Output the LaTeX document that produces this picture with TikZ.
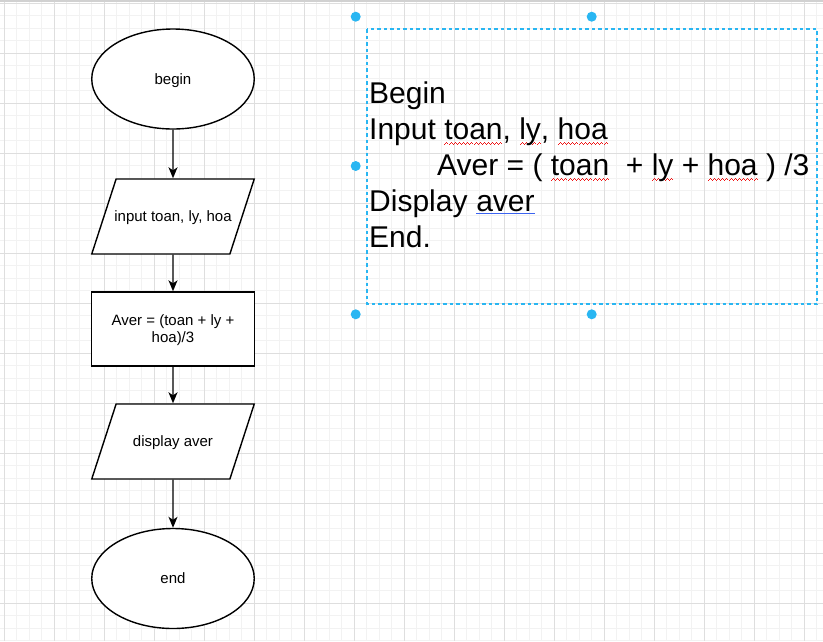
\documentclass[tikz,border=0pt]{standalone}
\usepackage{fontspec}
\setmainfont{Liberation Sans}
\usetikzlibrary{shapes.geometric,arrows.meta}
\definecolor{handleblue}{RGB}{41,182,242}
\definecolor{linkblue}{RGB}{60,100,240}
\definecolor{wavered}{RGB}{240,20,20}
\newsavebox\wordbox
\newcommand\flowstrut{\rule[-3.5pt]{0pt}{17pt}}
\newcommand\wavebit{\rule[-5.2pt]{1pt}{1.1pt}\rule[-4.3pt]{1pt}{1.1pt}\rule[-3.4pt]{1pt}{1.1pt}\rule[-4.3pt]{1pt}{1.1pt}}
\newcommand\spellwave[1]{\sbox\wordbox{#1}\rlap{\color{wavered}\hbox to\wd\wordbox{\xleaders\hbox{\wavebit}\hfil}}\usebox\wordbox}
\begin{document}
\begin{tikzpicture}[x=1pt, y=-1pt,
  flow/.style={draw, line width=1.4pt, fill=white, inner sep=0pt, font=\fontsize{15}{17}\selectfont, align=center},
  oval/.style={flow, ellipse, text height=13.5pt, text depth=3.5pt, minimum width=162.5pt, minimum height=100pt},
  io/.style={flow, trapezium, trapezium left angle=72, trapezium right angle=108, trapezium stretches body=true,
    text height=13.5pt, text depth=3.5pt, inner xsep=-2pt, inner ysep=29pt, minimum width=162.5pt, minimum height=75pt},
  proc/.style={flow, rectangle, minimum width=162.5pt, minimum height=74pt},
  arrow/.style={line width=1.4pt, -{Stealth[length=11pt, width=9pt, inset=3pt]}},
  pseudo/.style={anchor=base west, inner sep=0pt, font=\fontsize{30}{36}\selectfont},
  linkline/.style={draw=linkblue, line width=1.3pt},
  selbox/.style={draw=handleblue, line width=1.1pt, dash pattern=on 3.5pt off 3pt},
  handle/.style={fill=handleblue},
  minorline/.style={black!5, line width=1pt},
  majorline/.style={black!13, line width=1pt}]
\path[use as bounding box] (0,0) rectangle (823,641);
\clip (0,0) rectangle (823,641);
\foreach \i in {0,...,66} \draw[minorline] ({4+12.5*\i},0) -- ++(0,641);
\foreach \i in {0,...,52} \draw[minorline] (0,{3+12.5*\i}) -- ++(823,0);
\foreach \i in {0,...,16} \draw[majorline] ({4+50*\i},0) -- ++(0,641);
\foreach \i in {0,...,12} \draw[majorline] (0,{3+50*\i}) -- ++(823,0);
\fill[black!18] (0,0) rectangle (823,2);

\node[oval] (start) at (173,79) {begin};
\node[io] (input) at (173,216.5) {input toan, ly, hoa};
\node[proc] (aver) at (173,329) {\flowstrut Aver = (toan + ly +\\\flowstrut hoa)/3};
\node[io] (display) at (173,441.5) {display aver};
\node[oval] (stop) at (173,578.5) {end};
\draw[arrow] (start) -- (input);
\draw[arrow] (input) -- (aver);
\draw[arrow] (aver) -- (display);
\draw[arrow] (display) -- (stop);

\draw[selbox] (367,29) rectangle (817,304);
\foreach \hx/\hy in {355.7/16.7, 591.7/16.7, 828/16.7, 355.7/166, 828/166, 355.7/314.3, 591.7/314.3, 828/314.3}
  \fill[handle] (\hx,\hy) circle (5pt);
\node[pseudo] (pbegin) at (369,103.5) {Begin};
\node[pseudo] (pinput) at (369,139.5) {Input \spellwave{toan}, \spellwave{ly}, \spellwave{hoa}};
\node[pseudo] (paver) at (437,175.5) {Aver = ( \spellwave{toan}\ \ + \spellwave{ly} + \spellwave{hoa} ) /3};
\node[pseudo] (pdisplay) at (369,211.5) {Display};
\node[pseudo] (pdisplayvar) at ([xshift=8.34pt]pdisplay.base east) {aver};
\draw[linkline] ([yshift=-2.2pt]pdisplayvar.base west) -- ([yshift=-2.2pt]pdisplayvar.base east);
\node[pseudo] (pend) at (369,247.5) {End.};
\end{tikzpicture}
\end{document}
